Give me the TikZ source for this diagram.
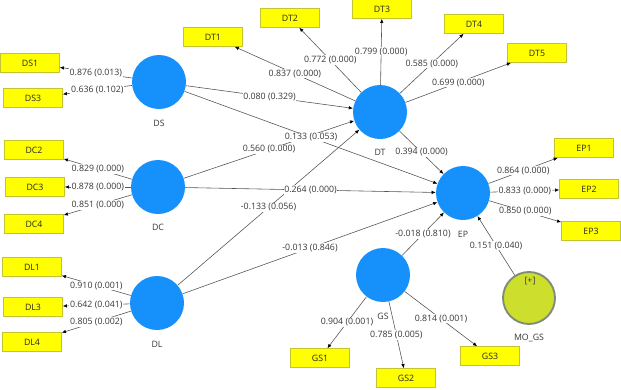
\documentclass[tikz,border=0pt]{standalone}
\usepackage{fontspec}
\setmainfont{Open Sans}
\usepackage{tikz}
\usetikzlibrary{arrows.meta}

\definecolor{lvblue}{RGB}{22,144,250}
\definecolor{indyel}{RGB}{255,255,0}
\definecolor{indedge}{RGB}{196,196,50}
\definecolor{mofill}{RGB}{205,222,44}
\definecolor{moedge}{RGB}{128,140,122}
\definecolor{edgegray}{RGB}{85,85,85}
\definecolor{txtgray}{RGB}{55,55,55}

\begin{document}
\begin{tikzpicture}[
    x=0.03cm, y=-0.03cm,
    >={Latex[length=3.6pt,width=3pt,color=black]},
    font=\fontsize{7.5}{9}\selectfont,
    lv/.style={circle, fill=lvblue, minimum size=1.62cm, inner sep=0pt},
    mod/.style={circle, fill=mofill, draw=moedge, line width=1.6pt, minimum size=1.56cm, inner sep=0pt},
    ind/.style={draw=indedge, fill=indyel, minimum width=1.77cm, minimum height=0.57cm, inner sep=0pt, text=black!85},
    lvname/.style={text=txtgray},
    coef/.style={fill=white, inner sep=0.6pt, text=txtgray},
    rel/.style={->, draw=edgegray, line width=0.5pt},
  ]
    \useasboundingbox (0,0) rectangle (621,389);

    % latent variables
    \node[lv] (ds) at (159,82)  {};
    \node[lv] (dc) at (158,187) {};
    \node[lv] (dl) at (157,303) {};
    \node[lv] (dt) at (380,112) {};
    \node[lv] (ep) at (463,193) {};
    \node[lv] (gs) at (383,275) {};
    \node[mod] (mo) at (529,298) {};

    \node[lvname] (dsl) at (159,123) {DS};
    \node[lvname] (dcl) at (158,227) {DC};
    \node[lvname] (dll) at (157,344) {DL};
    \node[lvname] (dtl) at (380,152) {DT};
    \node[lvname] (epl) at (463,234) {EP};
    \node[lvname] (gsl) at (383,316) {GS};
    \node[lvname] (mol) at (529,338) {MO\_GS};
    \node[lvname] (mop) at (530,281) {[+]};

    % indicators
    \node[ind] (ds1) at (30,63)  {DS1};
    \node[ind] (ds3) at (33,98)  {DS3};
    \node[ind] (dc2) at (34,150) {DC2};
    \node[ind] (dc3) at (35,187) {DC3};
    \node[ind] (dc4) at (34,224) {DC4};
    \node[ind] (dl1) at (32,267) {DL1};
    \node[ind] (dl3) at (33,307) {DL3};
    \node[ind] (dl4) at (32,342) {DL4};
    \node[ind] (dt1) at (213,37) {DT1};
    \node[ind] (dt2) at (290,18) {DT2};
    \node[ind] (dt3) at (382,9)  {DT3};
    \node[ind] (dt4) at (474,24) {DT4};
    \node[ind] (dt5) at (537,53) {DT5};
    \node[ind] (ep1) at (584,148) {EP1};
    \node[ind] (ep2) at (589,189) {EP2};
    \node[ind] (ep3) at (591,231) {EP3};
    \node[ind] (gs1) at (320,358) {GS1};
    \node[ind] (gs2) at (406,378) {GS2};
    \node[ind] (gs3) at (490,356) {GS3};

    % outer loadings
    \foreach \c/\i/\v in {ds/ds1/0.876 (0.013), ds/ds3/0.636 (0.102),
        dc/dc2/0.829 (0.000), dc/dc3/0.878 (0.000), dc/dc4/0.851 (0.000),
        dl/dl1/0.910 (0.001), dl/dl3/0.642 (0.041), dl/dl4/0.805 (0.002),
        dt/dt1/0.837 (0.000), dt/dt2/0.772 (0.000), dt/dt3/0.799 (0.000),
        dt/dt4/0.585 (0.000), dt/dt5/0.699 (0.000),
        ep/ep1/0.864 (0.000), ep/ep2/0.833 (0.000), ep/ep3/0.850 (0.000),
        gs/gs1/0.904 (0.001), gs/gs2/0.785 (0.005), gs/gs3/0.814 (0.001)}
      \draw[rel] (\c) -- node[coef] {\v} (\i);

    % inner model
    \foreach \a/\b/\v in {ds/dt/0.080 (0.329), dc/dt/0.560 (0.000), dl/dt/-0.133 (0.056),
        ds/ep/0.133 (0.053), dc/ep/0.264 (0.000), dl/ep/-0.013 (0.846),
        dt/ep/0.394 (0.000), gs/ep/-0.018 (0.810), mo/ep/0.151 (0.040)}
      \draw[rel] (\a) -- node[coef] {\v} (\b);
\end{tikzpicture}
\end{document}
